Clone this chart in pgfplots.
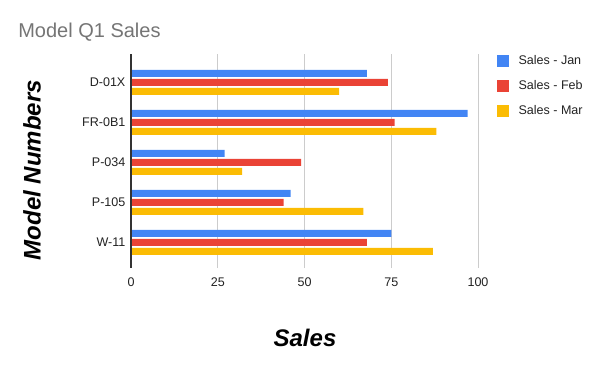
\documentclass[border=0pt]{standalone}
\usepackage{pgfplots}
\pgfplotsset{compat=1.18}
\usepackage{fontspec}
\setmainfont{Liberation Sans}
\definecolor{cJan}{HTML}{4285F4}
\definecolor{cFeb}{HTML}{EA4335}
\definecolor{cMar}{HTML}{FBBC04}
\definecolor{gridc}{HTML}{CCCCCC}
\definecolor{txt}{HTML}{222222}
\definecolor{ttl}{HTML}{757575}
\begin{document}
\begin{tikzpicture}
\path[use as bounding box] (0,0) rectangle (450pt,278.25pt);
\begin{axis}[
  at={(98.25pt,81.375pt)}, anchor=south west,
  scale only axis, width=260.25pt, height=156.375pt,
  xbar, bar width=5.25pt,
  xmin=0, xmax=100, ymin=-0.5, ymax=4.7125,
  xtick={0,25,50,75,100},
  ytick={0,1,2,3,4},
  yticklabels={W-11,P-105,P-034,FR-0B1,D-01X},
  axis x line=bottom, axis y line=left,
  x axis line style={draw=none},
  y axis line style={draw=none},
  xmajorgrids, major grid style={gridc, line width=0.6pt},
  x tick style={gridc, line width=0.6pt}, tick align=outside, major tick length=4.2pt,
  y tick style={draw=none},
  ticklabel style={font=\fontsize{9.4}{11}\selectfont, text=txt},
  /pgf/number format/assume math mode=true,
  xticklabel style={yshift=-4pt},
  yticklabel style={xshift=3.5pt},
  legend style={at={(1.043,1.02)}, anchor=north west, draw=none, fill=none,
    font=\fontsize{9.4}{11}\selectfont, text=txt, row sep=6.4pt,
    /tikz/every odd column/.style={column sep=5pt}},
  legend cell align=left,
  legend image code/.code={\fill[#1, draw=none] (0pt,-4.5pt) rectangle (9pt,4.5pt);},
]
\addplot[fill=cJan, draw=none, bar shift=6.75pt] coordinates {(68,4) (97,3) (27,2) (46,1) (75,0)};
\addplot[fill=cFeb, draw=none, bar shift=0pt] coordinates {(74,4) (76,3) (49,2) (44,1) (68,0)};
\addplot[fill=cMar, draw=none, bar shift=-6.75pt] coordinates {(60,4) (88,3) (32,2) (67,1) (87,0)};
\legend{Sales - Jan, Sales - Feb, Sales - Mar}
\end{axis}
\draw[black!80, line width=0.8pt] (98.25pt,77.25pt) -- (98.25pt,237.75pt);
\node[anchor=west, text=ttl, font=\fontsize{15}{17}\selectfont, inner sep=0pt] at (13.5pt,254.25pt) {Model Q1 Sales};
\node[font=\fontsize{18}{20}\selectfont\bfseries\itshape, text=black, inner sep=0pt] at (228.75pt,24.75pt) {Sales};
\node[font=\fontsize{18}{20}\selectfont\bfseries\itshape, text=black, inner sep=0pt, rotate=90] at (24pt,150.75pt) {Model Numbers};
\end{tikzpicture}
\end{document}
